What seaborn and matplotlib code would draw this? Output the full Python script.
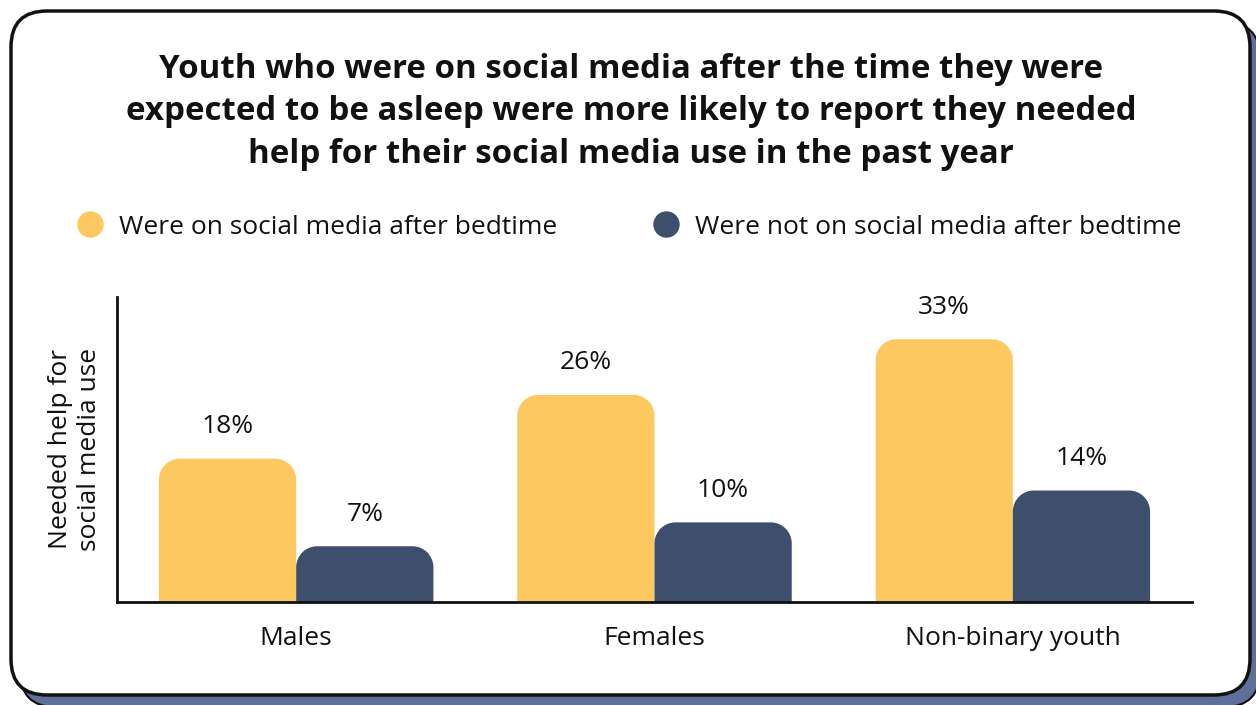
import numpy as np
import pandas as pd
import matplotlib
matplotlib.use("Agg")
import matplotlib.pyplot as plt
import seaborn as sns
from matplotlib.patches import FancyBboxPatch, PathPatch
from matplotlib.path import Path
from matplotlib.lines import Line2D
from matplotlib.transforms import IdentityTransform

# --- data ---
groups = ["Males", "Females", "Non-binary youth"]
series = ["Were on social media after bedtime", "Were not on social media after bedtime"]
after_bedtime = [18, 26, 33]
not_after_bedtime = [7, 10, 14]
colors = ["#FEC861", "#3E4F6D"]

title = ("Youth who were on social media after the time they were\n"
         "expected to be asleep were more likely to report they needed\n"
         "help for their social media use in the past year")
ylabel = "Needed help for\nsocial media use"

df = pd.DataFrame({
    "group": groups * 2,
    "series": [series[0]] * 3 + [series[1]] * 3,
    "value": after_bedtime + not_after_bedtime,
})

sns.set_theme(style="white")
plt.rcParams["font.family"] = ["Open Sans", "Noto Sans", "DejaVu Sans"]

W, H = 1256, 705
fig = plt.figure(figsize=(W / 100, H / 100), dpi=100)
fig.patch.set_facecolor("white")

# card with drop shadow (pixel coordinates)
shadow = FancyBboxPatch((20, -2), 1240, 685, boxstyle="round,pad=0,rounding_size=36",
                        transform=IdentityTransform(), facecolor="#5F7098",
                        edgecolor="#111111", linewidth=1.5, zorder=0)
card = FancyBboxPatch((11, 10), 1239, 684, boxstyle="round,pad=0,rounding_size=36",
                      transform=IdentityTransform(), facecolor="white",
                      edgecolor="#111111", linewidth=2.5, zorder=1)
fig.add_artist(shadow)
fig.add_artist(card)

ax_l, ax_r, ax_t, ax_b = 117, 1192, 297, 602
ax = fig.add_axes([ax_l / W, 1 - ax_b / H, (ax_r - ax_l) / W, (ax_b - ax_t) / H])
ax.set_zorder(2)
ax.patch.set_alpha(0)

sns.barplot(data=df, x="group", y="value", hue="series", palette=colors,
            width=0.766, gap=0, ax=ax, legend=False, saturation=1)

ax.set_xlim(-0.5, 2.5)
ax.set_ylim(0, 38.3)

# rounded top corners for every bar
fig.canvas.draw()
px_per_x = (ax_r - ax_l) / 3.0
px_per_y = (ax_b - ax_t) / 38.3
r_px = 21
for p in list(ax.patches):
    x0, y0 = p.get_x(), p.get_y()
    w, h = p.get_width(), p.get_height()
    fc = p.get_facecolor()
    p.set_visible(False)
    rx = r_px / px_per_x
    ry = min(r_px / px_per_y, h)
    k = 0.5523
    x1, y1 = x0 + w, y0 + h
    verts = [
        (x0, y0), (x0, y1 - ry),
        (x0, y1 - ry + k * ry), (x0 + rx - k * rx, y1), (x0 + rx, y1),
        (x1 - rx, y1),
        (x1 - rx + k * rx, y1), (x1, y1 - ry + k * ry), (x1, y1 - ry),
        (x1, y0), (x0, y0),
    ]
    codes = [Path.MOVETO, Path.LINETO,
             Path.CURVE4, Path.CURVE4, Path.CURVE4,
             Path.LINETO,
             Path.CURVE4, Path.CURVE4, Path.CURVE4,
             Path.LINETO, Path.CLOSEPOLY]
    ax.add_patch(PathPatch(Path(verts, codes), facecolor=fc, edgecolor="none", zorder=2))
    ax.text(x0 + w / 2, y1 + 32 / px_per_y, f"{int(round(h))}%", ha="center", va="center",
            fontsize=19, color="#111111")

for s in ["top", "right"]:
    ax.spines[s].set_visible(False)
for s in ["left", "bottom"]:
    ax.spines[s].set_color("#111111")
    ax.spines[s].set_linewidth(2)
ax.set_yticks([])
ax.set_xlabel("")
ax.set_ylabel("")
ax.tick_params(axis="x", length=0, pad=17, labelsize=19, labelcolor="#111111")

fig.text(75 / W, 1 - 449 / H, ylabel, rotation=90, ha="center", va="center",
         fontsize=19, color="#111111", linespacing=1.2)

fig.text(0.5 * (1262 / W), 1 - 112 / H, title, ha="center", va="center", fontsize=23.8,
         fontweight="bold", color="#111111", linespacing=1.37)

# legend
for (mx, tx), lab, c in zip([(90, 119), (666, 695)], series, colors):
    fig.add_artist(Line2D([mx / W], [1 - 224 / H], marker="o", markersize=18,
                          color=c, linestyle="none", transform=fig.transFigure))
    fig.text(tx / W, 1 - 227 / H, lab, ha="left", va="center", fontsize=19, color="#111111")

fig.savefig("out.png", dpi=100, facecolor="white")
